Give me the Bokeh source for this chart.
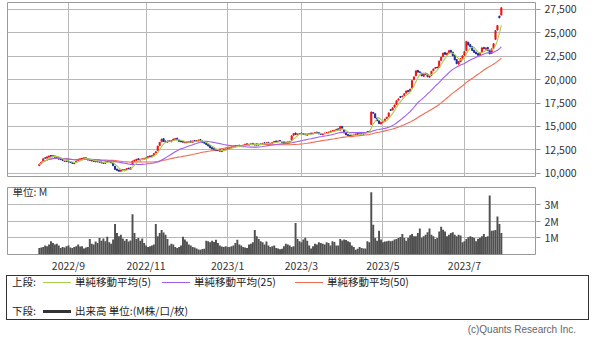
import pandas as pd
from bokeh.plotting import figure
from bokeh.models import Range1d, FixedTicker, NumeralTickFormatter, Label, Div, ColumnDataSource
from bokeh.layouts import column
from bokeh.embed import file_html
from bokeh.resources import INLINE

# ---- trading calendar (TSE), 2022-08-10 .. 2023-07-31 ----
holidays = ["2022-08-11", "2022-09-19", "2022-09-23", "2022-10-10", "2022-11-03",
            "2022-11-23", "2023-01-02", "2023-01-03", "2023-01-09", "2023-02-23",
            "2023-03-21", "2023-05-03", "2023-05-04", "2023-05-05", "2023-07-17"]
dates = [d for d in pd.bdate_range("2022-08-10", "2023-07-31")
         if d.strftime("%Y-%m-%d") not in holidays]

# ---- prices, per month ----
close_aug = [10950, 11200, 11550, 11600, 11750, 11850, 11800, 11900, 11700, 11750, 11500, 11450, 11350, 11300, 11250]
open_aug = [10800, 11000, 11250, 11650, 11600, 11700, 11900, 11750, 11850, 11650, 11700, 11550, 11450, 11250, 11350]
close_sep = [11200, 11150, 11050, 11100, 11300, 11500, 11550, 11600, 11650, 11500, 11400, 11450, 11300, 11250, 11300, 11200, 11150, 11100, 11050, 11200]
open_sep = [11300, 11250, 11150, 11000, 11150, 11350, 11450, 11500, 11550, 11650, 11550, 11350, 11450, 11350, 11200, 11300, 11250, 11200, 11150, 11050]
close_oct = [11250, 11350, 11100, 10800, 10400, 10300, 10200, 10350, 10250, 10400, 10500, 10450, 10600, 11300, 11400, 11500, 11450, 11500, 11550, 11600]
open_oct = [11150, 11200, 11300, 11050, 10750, 10450, 10350, 10200, 10400, 10250, 10350, 10550, 10400, 10900, 11250, 11350, 11550, 11400, 11450, 11500]
close_nov = [11650, 11800, 11750, 11900, 12100, 12300, 12900, 13300, 13650, 13400, 13300, 13450, 13400, 13500, 13650, 13700, 13550, 13400, 13350, 13300]
open_nov = [11550, 11650, 11850, 11750, 11900, 12150, 12400, 12950, 13350, 13700, 13450, 13300, 13500, 13350, 13500, 13600, 13750, 13550, 13450, 13400]
close_dec = [13300, 13350, 13400, 13300, 13450, 13400, 13500, 13550, 13450, 13300, 13200, 13050, 12900, 12700, 12600, 12450, 12400, 12500, 12350, 12400, 12550, 12600]
open_dec = [13250, 13250, 13300, 13450, 13300, 13500, 13400, 13450, 13600, 13450, 13350, 13250, 13100, 12950, 12750, 12650, 12500, 12400, 12550, 12300, 12400, 12500]
close_jan = [12650, 12700, 12800, 12900, 12850, 12950, 12900, 12850, 13000, 13100, 13050, 13100, 13150, 13050, 13100, 13000, 13100, 13150, 13200]
open_jan = [12550, 12600, 12700, 12800, 12950, 12850, 13000, 12950, 12850, 13000, 13150, 13000, 13050, 13200, 13000, 13150, 13000, 13050, 13100]
close_feb = [13200, 13250, 13150, 13200, 13300, 13400, 13350, 13450, 13400, 13300, 13200, 13300, 13350, 13400, 14000, 14250, 14150, 14200, 14250]
open_feb = [13250, 13150, 13300, 13100, 13200, 13300, 13450, 13350, 13500, 13400, 13350, 13200, 13250, 13300, 13500, 14050, 14300, 14100, 14150]
close_mar = [14200, 14150, 14100, 14200, 14250, 14200, 14300, 14350, 14300, 14200, 14150, 14250, 14300, 14350, 14400, 14500, 14550, 14600, 14700, 14650, 15000, 14750]
open_mar = [14300, 14250, 14200, 14050, 14150, 14300, 14200, 14250, 14400, 14350, 14250, 14100, 14200, 14250, 14300, 14400, 14450, 14500, 14550, 14750, 14600, 15000]
close_apr = [14300, 14100, 14000, 13950, 14050, 14100, 14200, 14150, 14250, 14200, 14300, 14350, 14450, 14500, 16550, 16400, 15900, 15600, 15300, 15450]
open_apr = [14650, 14350, 14150, 14050, 13900, 14000, 14100, 14250, 14100, 14300, 14150, 14250, 14350, 14400, 15200, 16500, 16350, 15900, 15600, 15250]
close_may = [15550, 15800, 16000, 16450, 16700, 17000, 17300, 17750, 17950, 18100, 18250, 18500, 18800, 18700, 19000, 19900, 20300, 20950, 20800, 20750]
open_may = [15450, 15500, 15850, 16050, 16800, 16750, 17050, 17350, 17800, 18200, 18150, 18300, 18550, 18850, 18750, 19100, 20000, 20400, 21000, 20850]
close_jun = [20400, 20650, 20550, 20300, 20400, 20900, 21150, 21300, 21250, 22000, 22400, 22850, 22700, 22850, 23100, 22900, 22550, 22100, 21700, 21950, 22250, 22550]
open_jun = [20700, 20350, 20700, 20600, 20250, 20450, 20950, 21200, 21350, 21300, 22050, 22450, 22900, 22650, 22900, 23150, 22950, 22600, 22150, 21650, 21900, 22300]
close_jul = [23000, 24100, 23700, 23500, 23100, 22900, 22750, 22600, 22850, 23400, 23300, 23400, 23100, 22750, 23300, 23850, 25250, 25800, 26600, 27700]
open_jul = [22600, 23100, 24000, 23750, 23550, 23150, 22950, 22800, 22600, 22900, 23450, 23250, 23450, 23150, 22800, 23350, 24300, 25300, 26800, 26900]

# ---- volume in millions, per month ----
vol_aug = [0.40, 0.42, 0.45, 0.55, 0.50, 0.60, 0.80, 0.70, 0.60, 0.65, 0.55, 0.40, 0.45, 0.42, 0.50]
vol_sep = [0.55, 0.42, 0.40, 0.45, 0.50, 0.60, 0.48, 0.50, 0.37, 0.42, 0.45, 0.93, 0.65, 0.60, 0.78, 0.70, 1.00, 0.83, 0.96, 0.80]
vol_oct = [1.07, 0.74, 0.65, 0.90, 1.85, 1.30, 1.10, 1.20, 0.96, 0.83, 0.93, 0.78, 0.85, 2.44, 1.30, 0.93, 1.00, 0.83, 0.96, 0.70]
vol_nov = [0.55, 0.46, 0.50, 0.55, 0.60, 1.85, 1.10, 1.30, 1.48, 1.33, 1.20, 0.93, 0.55, 0.65, 0.60, 0.45, 0.40, 0.46, 0.55, 1.07]
vol_dec = [0.90, 0.78, 0.60, 0.55, 0.46, 0.42, 0.37, 0.30, 0.28, 0.33, 0.35, 0.83, 0.80, 0.74, 0.83, 0.75, 0.89, 0.70, 0.55, 0.48, 0.46, 0.50]
vol_jan = [0.45, 0.46, 0.50, 0.55, 0.70, 0.89, 0.60, 0.55, 0.46, 0.42, 0.40, 0.60, 0.65, 0.74, 1.48, 1.10, 0.93, 0.80, 0.74]
vol_feb = [0.60, 0.78, 0.55, 0.46, 0.50, 0.55, 0.40, 0.37, 0.31, 0.35, 0.50, 0.65, 0.60, 0.55, 0.46, 0.50, 1.90, 0.93, 0.80]
vol_mar = [0.74, 0.90, 1.02, 0.83, 0.55, 0.37, 0.50, 0.65, 0.60, 0.74, 0.70, 0.65, 0.60, 0.74, 0.70, 0.55, 0.80, 0.75, 0.55, 0.55, 0.93, 0.85]
vol_apr = [0.90, 0.87, 0.80, 0.74, 0.55, 0.45, 0.28, 0.35, 0.46, 0.40, 0.37, 0.37, 0.80, 0.74, 3.76, 1.80, 1.00, 0.83, 1.43, 0.90]
vol_may = [0.74, 0.78, 0.80, 0.83, 0.80, 0.83, 0.90, 0.93, 1.00, 1.06, 1.24, 1.00, 0.83, 1.00, 1.17, 1.24, 1.10, 1.10, 1.30, 1.57]
vol_jun = [1.02, 1.10, 1.20, 1.35, 1.57, 1.20, 1.10, 0.93, 1.00, 1.39, 1.67, 1.50, 1.39, 1.10, 1.20, 1.30, 1.35, 1.20, 1.10, 1.20, 1.15, 0.74]
vol_jul = [0.80, 0.93, 1.05, 1.10, 1.06, 1.00, 0.80, 0.95, 1.02, 1.10, 1.24, 1.06, 1.10, 3.57, 1.43, 1.45, 1.48, 2.30, 1.85, 1.30]

price_ticks = [10000, 12500, 15000, 17500, 20000, 22500, 25000, 27500]
volume_ticks = [1, 2, 3]
volume_tick_labels = {1: "1M", 2: "2M", 3: "3M"}
label_months = [9, 11, 1, 3, 5, 7]

closes = (close_aug + close_sep + close_oct + close_nov + close_dec + close_jan +
          close_feb + close_mar + close_apr + close_may + close_jun + close_jul)
opens = (open_aug + open_sep + open_oct + open_nov + open_dec + open_jan +
         open_feb + open_mar + open_apr + open_may + open_jun + open_jul)
volumes = (vol_aug + vol_sep + vol_oct + vol_nov + vol_dec + vol_jan +
           vol_feb + vol_mar + vol_apr + vol_may + vol_jun + vol_jul)

n = min(len(dates), len(closes), len(opens), len(volumes))
dates = dates[:n]
closes = closes[:n]
opens = opens[:n]
volumes = volumes[:n]
idx = list(range(n))

cs = pd.Series(closes, dtype=float)
ma5 = cs.rolling(5, min_periods=1).mean().tolist()
ma25 = cs.rolling(25, min_periods=1).mean().tolist()
ma50 = cs.rolling(50, min_periods=1).mean().tolist()

up_col, dn_col = "#f01010", "#1a2a9a"
src = ColumnDataSource(dict(
    x=idx,
    top=[max(o, c) for o, c in zip(opens, closes)],
    bottom=[min(o, c) for o, c in zip(opens, closes)],
    color=[up_col if c >= o else dn_col for o, c in zip(opens, closes)],
    vol=volumes, ma5=ma5, ma25=ma25, ma50=ma50,
))

# month tick positions: first trading day of labelled months
tick_pos, tick_lab = [], {}
for i, d in enumerate(dates):
    if i > 0 and d.month != dates[i - 1].month and d.month in label_months:
        tick_pos.append(i)
        tick_lab[i] = f"{d.year}/{d.month}"

FONT = "Noto Sans CJK JP"
GRID = "#b8b8b8"
OUTL = "#9a9a9a"

x_range = Range1d(-16.4, 255.6)

# ---------------- price panel ----------------
p1 = figure(width=600, height=183, x_range=x_range, y_range=Range1d(9647, 28248),
            x_axis_location=None, y_axis_location="right",
            toolbar_location=None, output_backend="svg",
            min_border_left=7, min_border_right=65, min_border_top=2, min_border_bottom=7)
p1.yaxis.ticker = FixedTicker(ticks=price_ticks)
p1.yaxis.formatter = NumeralTickFormatter(format="0,0")
p1.xgrid.ticker = FixedTicker(ticks=tick_pos)
p1.ygrid.ticker = FixedTicker(ticks=price_ticks)

p1.vbar(x="x", width=0.55, top="top", bottom="bottom", fill_color="color",
        line_color="color", line_width=1, source=src)
p1.line("x", "ma50", source=src, line_color="#f06a50", line_width=1.1)
p1.line("x", "ma25", source=src, line_color="#a25cf0", line_width=1.1)
p1.line("x", "ma5", source=src, line_color="#a8d050", line_width=1.1)

# ---------------- volume panel ----------------
p2 = figure(width=600, height=92, x_range=x_range, y_range=Range1d(0, 4.05),
            y_axis_location="right", toolbar_location=None, output_backend="svg",
            min_border_left=7, min_border_right=65, min_border_top=4, min_border_bottom=15)
p2.yaxis.ticker = FixedTicker(ticks=volume_ticks)
p2.yaxis.major_label_overrides = volume_tick_labels
p2.xaxis.ticker = FixedTicker(ticks=tick_pos)
p2.xaxis.major_label_overrides = tick_lab
p2.xgrid.ticker = FixedTicker(ticks=tick_pos)
p2.ygrid.ticker = FixedTicker(ticks=volume_ticks)
p2.vbar(x="x", width=1.0, top="vol", bottom=0, fill_color="#505050",
        line_color=None, source=src)
p2.add_layout(Label(x=5, y=63, x_units="screen", y_units="screen", text="単位: M",
                    text_font=FONT, text_font_size="10.5px", text_color="#333333",
                    text_baseline="middle"))

for p in (p1, p2):
    p.outline_line_color = OUTL
    p.outline_line_width = 1
    p.background_fill_color = "white"
    p.border_fill_color = "white"
    p.xgrid.grid_line_color = GRID
    p.ygrid.grid_line_color = GRID
    p.xgrid.grid_line_alpha = 1
    p.ygrid.grid_line_alpha = 1
    for ax in p.yaxis:
        ax.axis_line_color = None
        ax.major_tick_out = 5
        ax.major_tick_in = 0
        ax.major_tick_line_color = OUTL
        ax.minor_tick_line_color = None
        ax.major_label_standoff = 4
        ax.major_label_text_font = FONT
        ax.major_label_text_font_size = "10.5px"
        ax.major_label_text_color = "#333333"
    p.margin = (0, 0, 0, 0)

ax = p2.xaxis[0]
ax.axis_line_color = None
ax.major_tick_out = 0
ax.major_tick_in = 0
ax.major_tick_line_color = None
ax.minor_tick_line_color = None
ax.major_label_standoff = 3
ax.major_label_text_font = FONT
ax.major_label_text_font_size = "10.5px"
ax.major_label_text_color = "#333333"

# ---------------- legend box ----------------
legend_rows = [
    ("上段:", [("#a8d050", 1, "単純移動平均(5)"), ("#a25cf0", 1, "単純移動平均(25)"), ("#f06a50", 1, "単純移動平均(50)")]),
    ("下段:", [("#333333", 3, "出来高 単位:(M株/口/枚)")]),
]
item_left = [43, 162, 295]
row_top = [0, 29]
parts = ['<div style="position:absolute;left:6px;top:0px;width:583px;height:45px;'
         'border:1px solid #333;box-sizing:border-box;"></div>']
for r, (head, items) in enumerate(legend_rows):
    t = row_top[r]
    parts.append(f'<div style="position:absolute;left:12px;top:{t}px;line-height:14px;white-space:nowrap;">{head}</div>')
    for k, (col, lw, txt) in enumerate(items):
        lx = item_left[k]
        parts.append(f'<div style="position:absolute;left:{lx}px;top:{t + 7 - lw // 2}px;width:28px;'
                     f'height:0;border-top:{lw}px solid {col};"></div>')
        parts.append(f'<div style="position:absolute;left:{lx + 32}px;top:{t}px;line-height:14px;'
                     f'white-space:nowrap;">{txt}</div>')
parts.append('<div style="position:absolute;right:24px;top:48px;line-height:14px;white-space:nowrap;'
             'font-family:\'Liberation Sans\';font-size:10px;color:#666;">(c)Quants Research Inc.</div>')
html = ('<div style="position:relative;width:600px;height:67px;font-family:\'Noto Sans CJK JP\';'
        'font-size:10.5px;color:#222;">' + "".join(parts) + '</div>')
legend = Div(text=html, width=600, height=67, margin=(0, 0, 0, 0))

layout = column(p1, p2, legend, spacing=0, margin=(0, 0, 0, 0))

open("out.html", "w").write(file_html(layout, INLINE))
